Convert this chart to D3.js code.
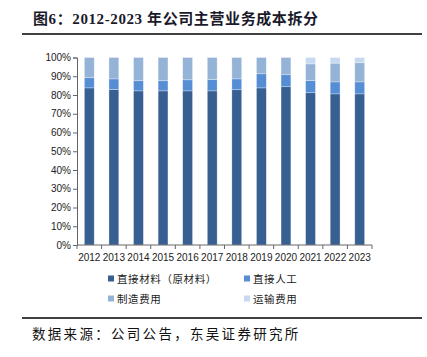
<!DOCTYPE html>
<html><head><meta charset="utf-8">
<script src="https://cdn.jsdelivr.net/npm/d3@7"></script>
<style>body{margin:0;background:#fff}svg{display:block}</style>
</head><body>
<svg id="c" width="427" height="357"></svg>
<script>
const years = ["2012","2013","2014","2015","2016","2017","2018","2019","2020","2021","2022","2023"];
const material = [83.8,82.9,82.2,82.2,82.2,82.2,82.8,83.8,84.4,81.2,80.6,80.6];
const labor = [5.4,5.7,5.4,5.4,5.9,6.1,5.8,7.5,6.4,6.5,6.4,6.4];
const manufacturing = [10.8,11.4,12.4,12.4,11.9,11.7,11.4,8.7,9.2,8.9,10.0,10.2];
const transport = [0,0,0,0,0,0,0,0,0,3.4,3.0,2.8];
const seriesNames = ["直接材料（原材料）","直接人工","制造费用","运输费用"];
const colors = ["#375F92","#558ED5","#95B3D7","#C6D9F1"];
const yTicks = [0,10,20,30,40,50,60,70,80,90,100];

const svg = d3.select("#c");
const font = "'Liberation Sans', Arial, sans-serif";
const cjk = "'Noto Sans CJK SC', sans-serif";

// title
svg.append("text").attr("x",33).attr("y",24).attr("font-family","'Liberation Serif','Noto Sans CJK SC',serif")
  .attr("font-weight","bold").attr("font-size",15).attr("letter-spacing",0.6).attr("fill","#1a1a2a")
  .text("图6：2012-2023 年公司主营业务成本拆分");
svg.append("line").attr("x1",22).attr("x2",422).attr("y1",34).attr("y2",34).attr("stroke","#000").attr("stroke-width",1.5);

const x = d3.scaleBand().domain(years).range([77,372]).paddingInner(0.6).paddingOuter(0.3);
const y = d3.scaleLinear().domain([0,100]).range([245,57.5]);

const data = years.map((yr,i)=>({year:yr, s0:material[i], s1:labor[i], s2:manufacturing[i], s3:transport[i]}));
const stack = d3.stack().keys(["s0","s1","s2","s3"])(data);

svg.append("g").selectAll("g").data(stack).join("g").attr("fill",(d,i)=>colors[i])
  .selectAll("rect").data(d=>d).join("rect")
  .attr("x",d=>x(d.data.year)).attr("width",x.bandwidth())
  .attr("y",d=>y(d[1])).attr("height",d=>Math.max(0,y(d[0])-y(d[1])))
  .attr("stroke","#fff").attr("stroke-opacity",0.5).attr("stroke-width",0.6);

// y axis
const ya = svg.append("g").attr("transform","translate(77,0)")
  .call(d3.axisLeft(y).tickValues(yTicks).tickFormat(d=>d+"%").tickSize(4).tickPadding(2));
ya.select(".domain").attr("stroke","#666");
ya.selectAll(".tick line").attr("stroke","#666");
ya.selectAll("text").attr("font-family",font).attr("font-size",10).attr("fill","#222");

// x axis
const xa = svg.append("g").attr("transform","translate(0,245)");
xa.append("line").attr("x1",77).attr("x2",372).attr("stroke","#666");
xa.selectAll("line.t").data(d3.range(years.length+1)).join("line").attr("class","t")
  .attr("x1",i=>77+i*(295/12)).attr("x2",i=>77+i*(295/12)).attr("y1",0).attr("y2",4).attr("stroke","#666");
xa.selectAll("text").data(years).join("text")
  .attr("x",d=>x(d)+x.bandwidth()/2).attr("y",15.5).attr("text-anchor","middle")
  .attr("font-family",font).attr("font-size",10).attr("fill","#222").text(d=>d);

// legend
const legPos = [[108,279],[244,279],[108,299],[244,299]];
const lg = svg.append("g");
seriesNames.forEach((n,i)=>{
  lg.append("rect").attr("x",legPos[i][0]).attr("y",legPos[i][1]-3.5).attr("width",6).attr("height",6).attr("fill",colors[i]);
  lg.append("text").attr("x",legPos[i][0]+9).attr("y",legPos[i][1]+4).attr("font-family",cjk)
    .attr("font-size",10.5).attr("letter-spacing",0.6).attr("fill","#222").text(n);
});

// footer
svg.append("line").attr("x1",22).attr("x2",422).attr("y1",318).attr("y2",318).attr("stroke","#000").attr("stroke-width",1.5);
svg.append("text").attr("x",32).attr("y",339).attr("font-family",cjk).attr("font-size",13.5).attr("letter-spacing",2.3).attr("fill","#111")
  .text("数据来源：公司公告，东吴证券研究所");
</script>
</body></html>
